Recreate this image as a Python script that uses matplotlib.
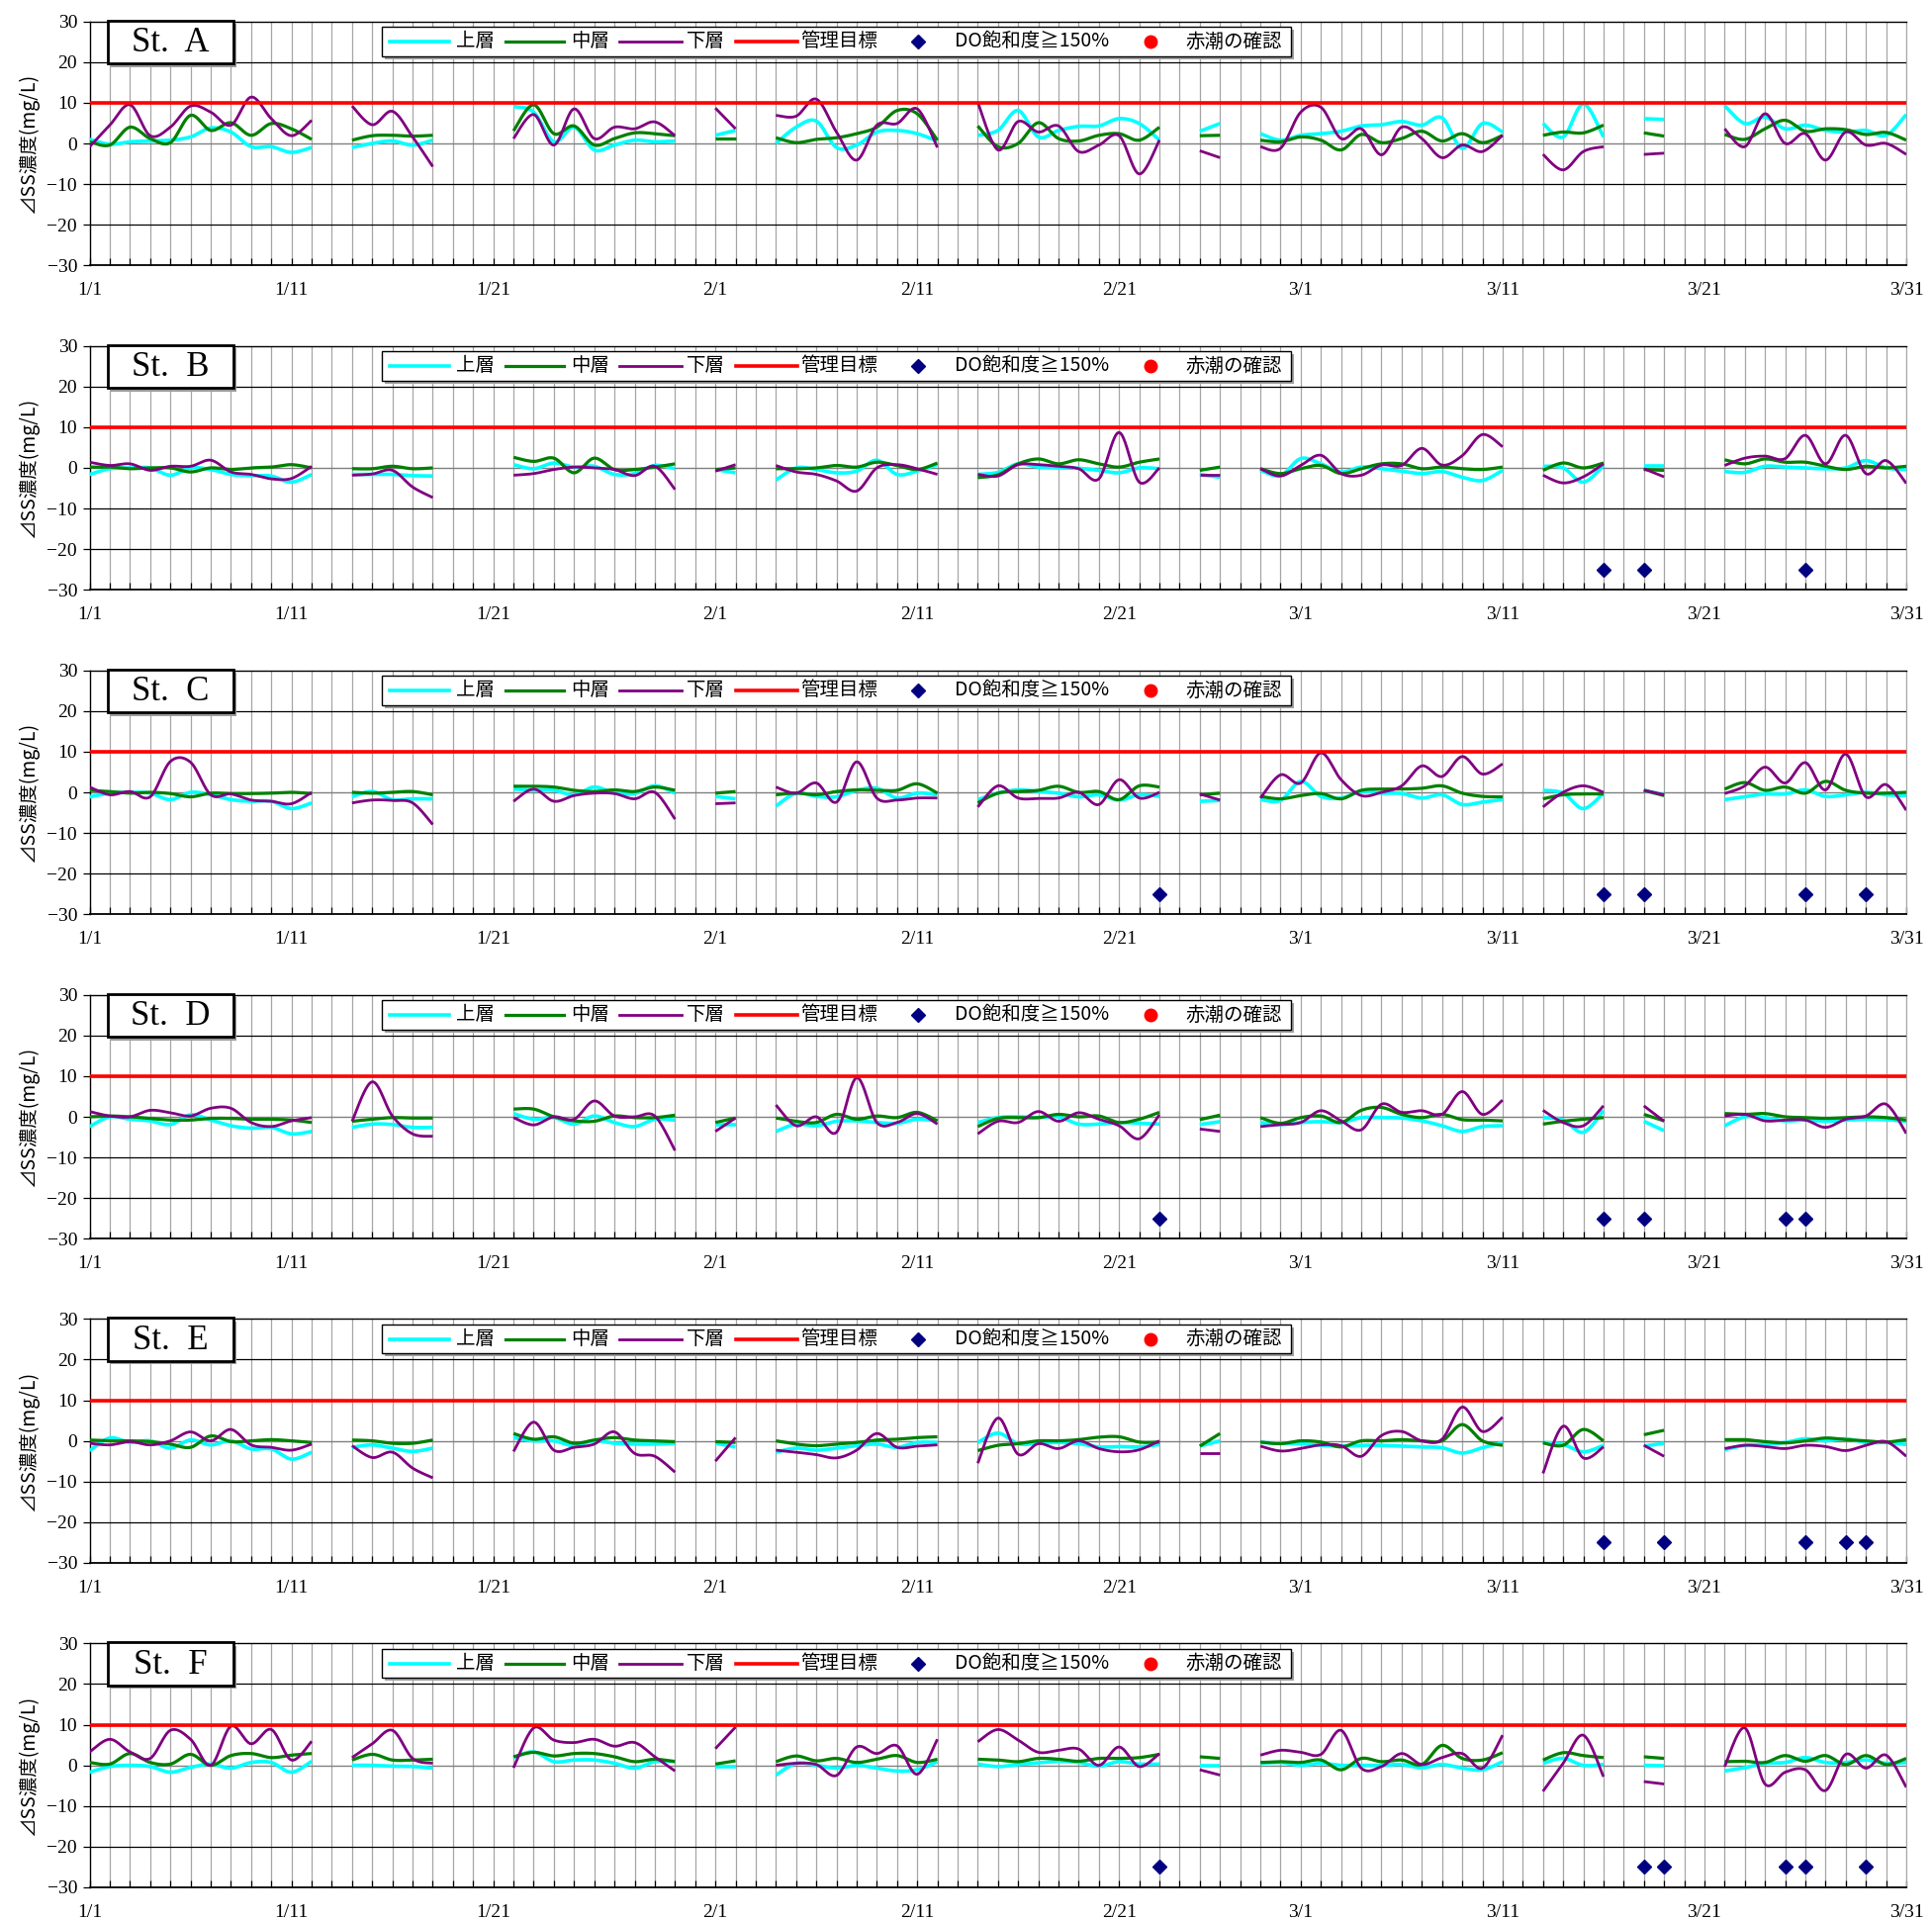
import numpy as np
import matplotlib
matplotlib.use("Agg")
import matplotlib.pyplot as plt
from matplotlib.patches import Rectangle
from matplotlib.lines import Line2D

N = None
DAY_LABEL_POS = [0, 10, 20, 31, 41, 51, 60, 70, 80, 90]
DAY_LABELS = ["1/1", "1/11", "1/21", "2/1", "2/11", "2/21", "3/1", "3/11", "3/21", "3/31"]
Y_TICKS = [-30, -20, -10, 0, 10, 20, 30]
STATIONS = ["St. A", "St. B", "St. C", "St. D", "St. E", "St. F"]
SERIES_NAMES = ["上層", "中層", "下層"]
TARGET = 10
DO_FLAG_LEVEL = -25

# ---------------- St. A ----------------
A_upper = [1.0, -0.2, 0.4, 0.6, 0.8, 1.6, 3.8, 2.8, -0.8, -0.8, -2.2, -1.0, N,
           -1.0, 0.0, 0.6, -0.4, 0.8, N, N, N,
           9.1, 7.7, 0.4, 4.0, -1.6, -0.4, 0.8, 0.4, 0.6, N,
           2.0, 3.2, N,
           0.0, 4.0, 5.5, -1.0, -0.4, 2.8, 3.2, 2.4, 0.6, N,
           2.0, 3.2, 8.1, 1.6, 3.2, 4.2, 4.3, 6.1, 4.9, 0.8, N,
           3.0, 4.9, N,
           2.4, 0.8, 2.0, 2.4, 3.0, 4.3, 4.6, 5.4, 4.5, 6.3, -1.2, 4.9, 2.8, N,
           4.9, 1.6, 9.7, 1.6, N,
           6.1, 5.9, N, N,
           9.3, 4.9, 6.5, 3.6, 4.5, 3.2, 2.8, 3.2, 2.0, 7.1]
A_mid = [0.4, -0.4, 4.0, 1.2, 0.2, 6.9, 3.2, 5.1, 2.0, 4.9, 3.6, 1.0, N,
         0.8, 1.9, 2.0, 1.8, 2.0, N, N, N,
         3.1, 9.5, 2.4, 4.3, -0.4, 1.2, 2.6, 2.4, 1.9, N,
         1.2, 1.2, N,
         1.4, 0.2, 1.0, 1.4, 2.4, 4.0, 8.1, 7.3, 0.8, N,
         4.3, -0.8, 0.0, 5.1, 1.2, 0.6, 2.0, 2.4, 0.8, 4.0, N,
         1.9, 2.0, N,
         0.8, 0.4, 1.6, 0.8, -1.6, 2.2, 0.2, 1.2, 3.0, 0.6, 2.4, 0.2, 2.0, N,
         2.0, 2.8, 2.6, 4.5, N,
         2.6, 1.8, N, N,
         2.2, 1.0, 3.6, 5.7, 3.0, 3.6, 3.4, 2.2, 2.7, 0.8]
A_low = [-0.8, 4.5, 9.5, 1.9, 4.0, 9.2, 7.7, 4.5, 11.4, 6.1, 1.9, 5.7, N,
         9.2, 4.6, 7.9, 1.6, -5.7, N, N, N,
         1.2, 7.1, -0.4, 8.5, 1.2, 4.0, 3.6, 5.3, 1.9, N,
         8.7, 3.6, N,
         6.9, 6.7, 10.9, 2.8, -4.1, 4.5, 4.9, 8.5, -1.0, N,
         10.1, -1.6, 5.4, 2.8, 4.3, -2.0, -0.4, 1.9, -7.5, 0.8, N,
         -1.8, -3.5, N,
         -0.8, -1.2, 7.7, 8.9, 1.2, 3.6, -2.8, 4.0, 1.2, -3.5, -0.4, -2.0, 2.0, N,
         -2.7, -6.5, -2.0, -0.8, N,
         -2.7, -2.4, N, N,
         3.6, -0.8, 7.3, 0.0, 2.4, -4.1, 2.8, -0.4, 0.0, -2.7]
A_do = []

# ---------------- St. B ----------------
B_upper = [-1.6, -0.2, 0.0, 0.0, -1.8, 0.0, -0.4, -1.6, -1.9, -2.0, -3.5, -1.6, N,
           -1.6, -1.6, -1.6, -1.9, -2.0, N, N, N,
           0.8, -0.2, 1.2, 0.2, 0.4, -1.6, -1.4, 0.6, -0.2, N,
           -0.4, -1.2, N,
           -3.0, 0.0, -0.4, -1.2, -0.8, 1.9, -1.6, -0.8, 0.8, N,
           -1.6, -1.1, 1.0, 0.2, 0.0, -0.1, -0.6, -1.2, 0.0, -0.2, N,
           -1.6, -2.3, N,
           -0.6, -1.9, 2.3, 1.0, -1.0, 0.2, -0.2, -0.8, -1.4, -0.9, -2.3, -3.1, -0.6, N,
           0.4, 0.0, -3.5, 0.6, N,
           0.4, 0.4, N, N,
           -0.9, -1.1, 0.4, 0.2, 0.0, -0.2, 0.0, 1.8, 0.0, -0.4]
B_mid = [0.2, 0.2, -0.2, 0.0, 0.0, -1.0, 0.0, -0.4, 0.0, 0.2, 0.8, 0.0, N,
         -0.2, -0.2, 0.4, -0.2, 0.0, N, N, N,
         2.6, 1.6, 2.4, -1.2, 2.4, -0.4, -0.4, 0.2, 1.0, N,
         -0.4, 0.0, N,
         -0.2, -0.2, 0.0, 0.6, 0.2, 1.4, 0.6, -0.4, 1.2, N,
         -2.4, -1.7, 1.0, 2.2, 1.0, 2.0, 1.0, 0.2, 1.4, 2.2, N,
         -0.6, 0.2, N,
         -0.2, -1.4, -0.2, 0.6, -1.4, -0.2, 1.0, 1.0, -0.2, 0.2, -0.2, -0.4, 0.2, N,
         -0.6, 1.2, 0.0, 1.2, N,
         -0.4, -0.6, N, N,
         2.0, 1.0, 2.2, 1.4, 1.4, 0.4, -0.4, 0.4, 0.0, 0.4]
B_low = [1.4, 0.6, 1.0, -0.6, 0.4, 0.4, 1.9, -1.0, -1.6, -2.7, -2.6, 0.4, N,
         -1.8, -1.5, -0.6, -4.7, -7.3, N, N, N,
         -1.8, -1.4, -0.4, 0.2, 0.0, -0.4, -1.9, 0.4, -5.3, N,
         -0.8, 0.8, N,
         0.6, -1.0, -1.6, -3.2, -5.7, 0.0, 0.8, -0.2, -1.6, N,
         -1.6, -2.0, 0.8, 0.8, 0.4, -0.2, -2.7, 8.7, -3.5, 0.0, N,
         -1.7, -1.7, N,
         -0.2, -2.0, 0.6, 3.1, -1.4, -1.8, 0.7, 0.6, 4.8, 0.7, 3.0, 8.2, 5.2, N,
         -1.8, -3.7, -2.2, 1.0, N,
         -0.2, -2.2, N, N,
         0.6, 2.4, 2.9, 2.3, 8.0, 1.0, 8.0, -1.4, 1.8, -3.8]
B_do = [75, 77, 85]

# ---------------- St. C ----------------
C_upper = [-1.1, -0.2, 0.0, -0.2, -1.8, 0.0, -0.6, -1.8, -2.2, -2.2, -4.0, -2.6, N,
           -1.1, 0.2, -1.8, -1.6, -1.6, N, N, N,
           0.8, 0.5, 0.5, -0.6, 1.3, -0.2, -0.3, 1.6, -0.2, N,
           -1.0, -1.6, N,
           -3.4, -0.2, -1.0, -1.1, 0.5, 1.0, -1.4, -0.2, -0.6, N,
           -1.8, -0.2, 0.6, 0.2, -0.2, -1.1, -0.6, -1.9, -0.6, -1.0, N,
           -2.2, -2.0, N,
           -1.8, -2.0, 2.7, -1.0, -1.4, 0.2, -0.2, -0.3, -1.4, -0.6, -3.0, -2.4, -1.8, N,
           0.5, -0.2, -4.0, -0.2, N,
           0.5, -0.6, N, N,
           -1.8, -1.1, -0.4, -0.4, 0.6, -1.0, -0.6, 0.0, -0.6, -0.8]
C_mid = [0.5, 0.2, -0.2, 0.0, -0.3, -1.1, -0.2, -0.3, -0.3, -0.2, 0.0, -0.3, N,
         0.0, -0.2, 0.0, 0.2, -0.6, N, N, N,
         1.5, 1.5, 1.3, 0.5, 0.2, 0.6, 0.2, 1.3, 0.5, N,
         -0.2, 0.2, N,
         -0.6, -0.2, -0.6, 0.2, 0.6, 0.5, 0.5, 2.1, -0.2, N,
         -2.6, -0.2, 0.2, 0.5, 1.5, 0.0, 0.2, -1.8, 1.6, 1.3, N,
         -0.6, -0.2, N,
         -1.0, -1.6, -0.8, -0.3, -1.6, 0.5, 0.8, 0.8, 1.0, 1.6, -0.2, -1.0, -1.1, N,
         -1.6, -0.6, -0.4, -0.4, N,
         0.5, -0.8, N, N,
         0.8, 2.4, 0.5, 1.3, -0.2, 2.7, 0.5, -0.2, -0.2, 0.0]
C_low = [1.3, -0.6, 0.2, -1.1, 7.6, 7.4, -0.6, -0.4, -1.9, -2.2, -2.8, 0.0, N,
         -2.6, -1.9, -2.0, -2.6, -7.9, N, N, N,
         -2.2, 0.8, -2.2, -0.8, -0.2, -0.3, -1.6, 0.0, -6.6, N,
         -2.8, -2.6, N,
         1.3, -0.2, 2.3, -2.4, 7.5, -1.4, -1.9, -1.4, -1.4, N,
         -3.6, 1.6, -1.4, -1.5, -1.4, 0.0, -3.0, 3.1, -1.4, 0.0, N,
         -0.4, -1.9, N,
         -1.4, 4.3, 2.3, 9.7, 3.1, -0.8, 0.0, 1.6, 6.5, 3.9, 8.8, 4.5, 7.0, N,
         -3.6, 0.0, 1.6, 0.0, N,
         0.5, -0.6, N, N,
         -0.3, 1.6, 6.2, 2.3, 7.3, 0.6, 9.4, -1.1, 1.9, -4.4]
C_do = [53, 75, 77, 85, 88]

# ---------------- St. D ----------------
D_upper = [-2.4, 0.0, -0.6, -1.0, -1.9, 0.5, -0.8, -2.2, -2.8, -2.6, -4.2, -3.6, N,
           -2.6, -1.8, -1.9, -2.6, -2.6, N, N, N,
           0.8, -0.6, -0.2, -1.8, 0.2, -1.4, -2.4, -0.6, -0.8, N,
           -1.9, -1.9, N,
           -3.6, -1.8, -2.2, -1.1, -1.0, -1.4, -1.6, -0.6, -1.0, N,
           -1.4, -0.2, 0.0, -0.2, 0.0, -1.8, -1.8, -1.4, -1.6, -1.8, N,
           -1.9, -1.2, N,
           -1.4, -1.9, -1.4, -1.2, -1.4, -0.2, -0.2, -0.3, -1.0, -2.2, -3.6, -2.4, -2.2, N,
           -0.2, -0.8, -3.8, 1.5, N,
           -1.1, -3.4, N, N,
           -2.2, 0.0, -0.2, -1.0, -0.8, -1.1, -0.8, -0.6, -0.7, -1.1]
D_mid = [0.0, 0.2, 0.0, -0.4, -0.8, -0.8, -0.4, -0.4, -0.6, -0.6, -0.8, -1.4, N,
         -1.1, -0.6, -0.2, -0.3, -0.3, N, N, N,
         1.9, 1.9, 0.0, -1.0, -1.1, 0.2, -0.2, -0.2, 0.4, N,
         -1.4, -0.3, N,
         -0.3, -1.1, -1.4, 0.6, -0.6, 0.2, -0.2, 1.1, -1.0, N,
         -2.4, -0.4, -0.2, -0.2, 0.6, 0.0, 0.2, -1.4, -0.6, 1.1, N,
         -0.7, 0.4, N,
         -0.2, -1.6, -0.2, 0.2, -1.4, 1.6, 2.3, 0.6, -0.2, 0.6, -0.7, -0.8, -1.0, N,
         -1.8, -1.1, -0.6, -0.2, N,
         0.6, -1.0, N, N,
         0.8, 0.6, 0.8, 0.0, -0.2, -0.4, -0.2, 0.0, -0.2, -0.8]
D_low = [1.3, 0.2, 0.0, 1.6, 1.0, 0.2, 2.1, 2.1, -1.4, -2.4, -1.0, -0.2, N,
         -1.1, 8.6, 0.2, -4.2, -4.8, N, N, N,
         -0.2, -2.0, 0.0, -0.6, 3.9, 0.2, 0.0, 0.2, -8.3, N,
         -3.6, -0.3, N,
         2.9, -2.2, 0.0, -3.8, 9.6, -1.4, -1.4, 0.8, -1.8, N,
         -4.2, -1.1, -1.4, 1.3, -1.1, 1.0, -0.6, -2.2, -5.4, 0.5, N,
         -3.0, -3.6, N,
         -2.4, -1.9, -1.4, 1.5, -1.0, -3.2, 3.1, 1.1, 1.5, 0.6, 6.2, 0.6, 4.1, N,
         1.6, -1.4, -2.2, 2.7, N,
         2.7, -1.1, N, N,
         0.2, 0.6, -1.0, -0.8, -0.8, -2.6, -0.6, 0.2, 3.1, -4.1]
D_do = [53, 75, 77, 84, 85]

# ---------------- St. E ----------------
E_upper = [-2.4, 0.7, -0.4, 0.0, -1.8, 0.2, -1.0, 0.0, -2.0, -2.0, -4.5, -2.8, N,
           -1.6, -1.0, -1.8, -2.6, -1.8, N, N, N,
           0.8, 0.0, 0.0, -1.2, 0.0, -0.6, -0.8, -0.8, -0.6, N,
           -0.6, -1.5, N,
           -2.8, -1.8, -2.3, -1.8, -1.2, -0.8, -1.6, -0.4, -0.4, N,
           -0.4, 1.9, -0.7, -0.6, -0.4, -0.7, -1.5, -1.4, -1.5, -0.9, N,
           -1.3, 0.0, N,
           -0.4, -0.6, -0.7, -1.1, -1.3, -1.1, -1.1, -1.3, -1.5, -1.7, -3.0, -1.7, -0.4, N,
           -0.4, -0.9, -2.7, -1.1, N,
           -1.3, -0.6, N, N,
           -2.2, -1.1, -0.9, -0.4, 0.5, 0.0, 0.5, -0.4, -0.4, -0.9]
E_mid = [0.2, 0.0, 0.0, -0.2, -0.8, -1.6, 1.2, -0.2, 0.0, 0.3, 0.0, -0.4, N,
         0.2, 0.0, -0.6, -0.6, 0.2, N, N, N,
         1.8, 0.4, 1.0, -0.6, 0.2, 0.8, 0.2, 0.0, -0.2, N,
         -0.2, -0.4, N,
         0.0, -0.8, -1.2, -0.8, -0.4, 0.2, 0.4, 0.8, 1.0, N,
         -2.4, -1.1, -0.7, 0.0, 0.0, 0.3, 0.9, 1.0, -0.3, -0.3, N,
         -1.3, 1.8, N,
         -0.3, -0.7, 0.0, -0.3, -1.5, 0.0, 0.0, 0.3, 0.0, 0.0, 4.0, 0.0, -1.1, N,
         -0.5, -1.1, 2.8, 0.0, N,
         1.5, 2.6, N, N,
         0.3, 0.3, -0.2, -0.5, 0.0, 0.7, 0.3, 0.0, -0.3, 0.3]
E_low = [-0.6, -1.0, -0.2, -1.0, 0.0, 2.2, 0.0, 2.8, -1.0, -1.6, -2.3, -0.8, N,
         -1.2, -4.1, -2.8, -6.7, -9.1, N, N, N,
         -2.6, 4.6, -2.3, -1.6, -0.8, 2.2, -3.1, -3.8, -7.7, N,
         -5.0, 0.8, N,
         -2.3, -2.8, -3.4, -4.2, -2.3, 1.8, -1.6, -1.3, -1.0, N,
         -5.5, 5.6, -3.3, -0.7, -1.9, 0.0, -1.9, -2.7, -2.2, 0.0, N,
         -3.0, -3.0, N,
         -1.3, -2.5, -1.9, -1.0, -1.2, -3.8, 1.3, 2.3, 0.0, 0.4, 8.3, 2.3, 5.8, N,
         -8.0, 3.6, -4.2, -1.5, N,
         -1.1, -3.8, N, N,
         -1.9, -1.1, -1.4, -1.9, -1.1, -1.4, -2.4, -1.1, -0.2, -3.8]
E_do = [75, 78, 85, 87, 88]

# ---------------- St. F ----------------
F_upper = [-1.7, -0.3, 0.0, -0.3, -1.7, -0.5, 0.3, -0.7, 0.7, 0.7, -1.7, 1.0, N,
           0.0, 0.0, -0.2, -0.3, -0.7, N, N, N,
           1.9, 3.3, 0.9, 1.3, 1.3, 0.5, -0.7, 0.9, 1.0, N,
           -0.3, -0.3, N,
           -2.4, 0.5, 0.0, -0.7, 0.0, -0.7, -1.4, -1.1, 0.9, N,
           0.3, -0.3, 0.2, 0.6, 1.0, 0.7, -0.2, 0.9, 0.3, 0.3, N,
           0.0, 0.0, N,
           0.5, 0.7, 0.0, 0.5, 0.0, 0.0, 0.0, 0.2, -0.6, 0.2, -0.7, -1.1, 0.9, N,
           0.5, 1.7, 0.0, 0.2, N,
           0.0, -0.1, N, N,
           -1.4, -0.6, 0.5, 0.7, 1.9, 0.7, 0.7, 1.3, 0.5, 0.7]
F_mid = [0.7, 0.3, 2.9, 0.7, 0.3, 2.7, 0.0, 2.4, 2.9, 1.9, 2.5, 2.9, N,
         1.3, 2.7, 1.3, 1.3, 1.5, N, N, N,
         2.1, 3.2, 2.3, 2.9, 2.9, 2.1, 0.9, 1.5, 0.9, N,
         0.3, 1.1, N,
         0.9, 2.3, 1.1, 1.7, 0.7, 1.5, 2.4, 0.7, 1.5, N,
         1.5, 1.3, 0.9, 1.7, 1.5, 1.0, 1.7, 1.7, 1.9, 2.7, N,
         2.1, 1.7, N,
         0.7, 0.9, 0.7, 1.3, -1.1, 1.7, 0.9, 1.3, 0.2, 4.9, 1.7, 1.3, 3.1, N,
         1.3, 3.1, 2.4, 1.9, N,
         2.1, 1.7, N, N,
         0.9, 1.0, 0.7, 2.4, 1.0, 2.4, 0.2, 2.4, 0.2, 1.7]
F_low = [3.3, 6.4, 3.3, 1.7, 8.6, 6.4, 0.0, 9.6, 5.3, 8.8, 1.3, 5.9, N,
         1.9, 5.3, 8.6, 1.7, 0.5, N, N, N,
         -0.6, 9.2, 6.2, 5.6, 6.4, 4.7, 5.6, 2.1, -1.4, N,
         4.1, 9.4, N,
         0.0, 0.5, 0.2, -2.5, 4.5, 2.9, 4.8, -2.2, 6.4, N,
         5.8, 8.8, 6.2, 3.2, 3.7, 4.0, 0.0, 4.5, -0.3, 2.9, N,
         -1.1, -2.4, N,
         2.5, 3.7, 3.2, 2.7, 8.6, -0.7, -0.3, 2.9, 0.2, 1.9, 2.9, -0.7, 7.4, N,
         -6.4, 0.5, 7.4, -2.8, N,
         -4.0, -4.6, N, N,
         -0.3, 9.2, -4.6, -1.7, -1.1, -6.2, 2.7, -0.7, 2.5, -5.4]
F_do = [53, 77, 78, 84, 85, 88]

PANELS = [
    (A_upper, A_mid, A_low, A_do),
    (B_upper, B_mid, B_low, B_do),
    (C_upper, C_mid, C_low, C_do),
    (D_upper, D_mid, D_low, D_do),
    (E_upper, E_mid, E_low, E_do),
    (F_upper, F_mid, F_low, F_do),
]

COLORS = ["#00FFFF", "#008000", "#800080"]
WIDTHS = [2.6, 2.3, 2.0]
CJK = ["Noto Sans CJK JP", "DejaVu Sans"]
SERIF = ["Liberation Serif", "DejaVu Serif"]


def runs(vals):
    out, cur = [], []
    for i, v in enumerate(vals):
        if v is None:
            if cur:
                out.append(cur)
            cur = []
        else:
            cur.append((i, v))
    if cur:
        out.append(cur)
    return out


def smooth(run, n=24):
    P = np.array(run, dtype=float)
    m = len(P)
    if m == 1:
        return P
    t = np.linspace(0, 1, n)[1:][:, None]
    pts = [P[0]]
    for i in range(m - 1):
        p0 = P[i - 1] if i > 0 else P[i]
        p1, p2 = P[i], P[i + 1]
        p3 = P[i + 2] if i + 2 < m else P[i + 1]
        c1 = p1 + (p2 - p0) / 6.0
        c2 = p2 - (p3 - p1) / 6.0
        seg = (1 - t) ** 3 * p1 + 3 * (1 - t) ** 2 * t * c1 + 3 * (1 - t) * t ** 2 * c2 + t ** 3 * p2
        pts.extend(seg)
    return np.array(pts)


W, H = 1953, 1942
fig = plt.figure(figsize=(W / 100, H / 100), dpi=100)
fig.patch.set_facecolor("white")

left = 90.6 / W
width = (1927 - 90.6) / W
height = 246.6 / H
tops = [21.7, 349.7, 677.7, 1005.7, 1333.3, 1661.3]

for k, (up, mid, low, do_days) in enumerate(PANELS):
    top = tops[k]
    ax = fig.add_axes([left, 1 - (top + 246.6) / H, width, height])
    ax.set_xlim(0, 90)
    ax.set_ylim(-30, 30)

    # grid
    ax.vlines(range(1, 91), -30, 30, color="#a6a6a6", lw=0.9, zorder=1)
    ax.hlines([-20, -10, 10, 20], 0, 90, color="black", lw=0.9, zorder=1)
    ax.hlines([0], 0, 90, color="#808080", lw=1.0, zorder=1)

    for sp in ["left", "top", "bottom"]:
        ax.spines[sp].set_color("black")
        ax.spines[sp].set_linewidth(1.0)
    ax.spines["bottom"].set_linewidth(1.3)
    ax.spines["right"].set_color("#a6a6a6")

    # series
    for vals, c, lw in zip((up, mid, low), COLORS, WIDTHS):
        for r in runs(vals):
            s = smooth(r)
            ax.plot(s[:, 0], s[:, 1], color=c, lw=lw, solid_capstyle="butt",
                    solid_joinstyle="round", zorder=3)

    ax.axhline(TARGET, color="#FF0000", lw=2.6, zorder=4)

    if do_days:
        ax.plot(do_days, [DO_FLAG_LEVEL] * len(do_days), ls="none", marker="D",
                color="#000080", ms=7.5, zorder=5)

    # ticks
    ax.set_xticks(DAY_LABEL_POS)
    ax.set_xticklabels(DAY_LABELS)
    ax.set_xticks(range(91), minor=True)
    ax.tick_params(axis="x", which="both", direction="in", length=5, width=0.9,
                   color="black", pad=12, labelsize=14, top=False)
    ax.set_yticks(Y_TICKS)
    ax.set_yticklabels([str(v).replace("-", "\u2212") for v in Y_TICKS])
    ax.tick_params(axis="y", which="major", direction="out", length=5, width=0.9,
                   pad=4, labelsize=14)
    for lab in ax.get_xticklabels() + ax.get_yticklabels():
        lab.set_fontfamily(SERIF)

    ax.set_ylabel("⊿SS濃度(mg/L)", fontsize=14, family=CJK)
    ax.yaxis.set_label_coords(-0.028, 0.5)

    # station box
    sx0, sx1 = 0.010, 0.0792
    sy0, sy1 = 0.827, 1.004
    ax.add_patch(Rectangle((sx0 + 0.0018, sy0 - 0.013), sx1 - sx0, sy1 - sy0,
                           transform=ax.transAxes, facecolor="#9a9a9a", edgecolor="none",
                           clip_on=False, zorder=8))
    ax.add_patch(Rectangle((sx0, sy0), sx1 - sx0, sy1 - sy0, transform=ax.transAxes,
                           facecolor="white", edgecolor="black", lw=2.0, clip_on=False, zorder=9))
    ax.text((sx0 + sx1) / 2, (sy0 + sy1) / 2 - 0.005, STATIONS[k].replace(" ", "  "),
            transform=ax.transAxes, ha="center", va="center", fontsize=25,
            family=SERIF, zorder=10)

    # legend
    lx0, lx1 = 0.161, 0.6615
    ly0, ly1 = 0.858, 0.978
    yc = 0.918
    ax.add_patch(Rectangle((lx0 + 0.0016, ly0 - 0.012), lx1 - lx0, ly1 - ly0,
                           transform=ax.transAxes, facecolor="#a0a0a0", edgecolor="none",
                           clip_on=False, zorder=8))
    ax.add_patch(Rectangle((lx0, ly0), lx1 - lx0, ly1 - ly0, transform=ax.transAxes,
                           facecolor="white", edgecolor="black", lw=1.0, clip_on=False, zorder=9))
    line_specs = [(0.165, 0.198, COLORS[0], 0.2016, SERIES_NAMES[0], WIDTHS[0]),
                  (0.2288, 0.2613, COLORS[1], 0.2647, SERIES_NAMES[1], WIDTHS[1]),
                  (0.2918, 0.3257, COLORS[2], 0.3284, SERIES_NAMES[2], WIDTHS[2]),
                  (0.3556, 0.3895, "#FF0000", 0.3915, "管理目標", 2.6)]
    for x0, x1, c, tx, lab, lw in line_specs:
        ax.add_line(Line2D([x0, x1], [yc, yc], transform=ax.transAxes, color=c, lw=lw,
                           clip_on=False, zorder=10))
        ax.text(tx, yc, lab, transform=ax.transAxes, ha="left", va="center",
                fontsize=14, family=CJK, zorder=10)
    ax.add_line(Line2D([0.456], [yc], transform=ax.transAxes, marker="D", color="#000080",
                       ms=7, ls="none", clip_on=False, zorder=10))
    ax.text(0.4763, yc, "DO飽和度≧150%", transform=ax.transAxes, ha="left", va="center",
            fontsize=14, family=CJK, zorder=10)
    ax.add_line(Line2D([0.5841], [yc], transform=ax.transAxes, marker="o", color="#FF0000",
                       ms=9, ls="none", clip_on=False, zorder=10))
    ax.text(0.6031, yc, "赤潮の確認", transform=ax.transAxes, ha="left", va="center",
            fontsize=14, family=CJK, zorder=10)

fig.savefig("out.png", dpi=100, facecolor="white")
